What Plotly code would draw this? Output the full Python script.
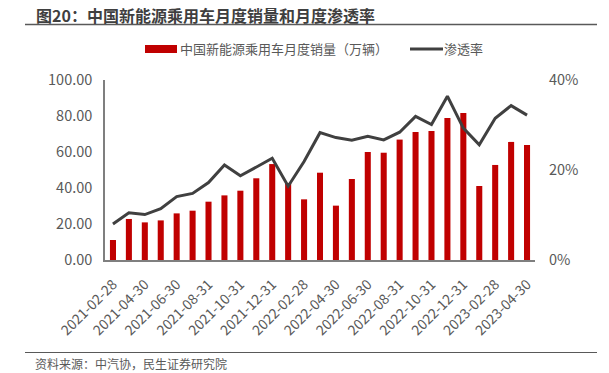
import plotly.graph_objects as go

months = ["2021-02-28","2021-03-31","2021-04-30","2021-05-31","2021-06-30","2021-07-31",
          "2021-08-31","2021-09-30","2021-10-31","2021-11-30","2021-12-31","2022-01-31",
          "2022-02-28","2022-03-31","2022-04-30","2022-05-31","2022-06-30","2022-07-31",
          "2022-08-31","2022-09-30","2022-10-31","2022-11-30","2022-12-31","2023-01-31",
          "2023-02-28","2023-03-31","2023-04-30"]
sales = [11.1, 22.8, 20.9, 22.0, 25.9, 27.4, 32.4, 35.9, 38.5, 45.4, 53.3, 42.8,
         33.7, 48.5, 30.2, 45.0, 60.0, 59.6, 66.9, 71.1, 71.7, 78.9, 81.7, 41.1,
         52.8, 65.6, 63.9]
penetration = [8.0, 10.5, 10.1, 11.4, 14.1, 14.8, 17.2, 21.1, 18.7, 20.7, 22.6, 16.4,
               21.9, 28.3, 27.2, 26.6, 27.5, 26.7, 28.4, 31.9, 30.1, 36.4, 29.3, 25.6,
               31.5, 34.3, 32.2]
tick_labels = months[::2]
left_ticks = [0, 20, 40, 60, 80, 100]
right_ticks = [0, 20, 40]
bar_name = "中国新能源乘用车月度销量（万辆）"
line_name = "渗透率"

FONT = "Noto Sans CJK SC"
L, R, T, B = 105, 535, 80, 260
PW, PH = R - L, B - T

def px(x):
    return (x - L) / PW

def py(y):
    return (B - y) / PH

fig = go.Figure()
fig.add_trace(go.Bar(x=months, y=sales, name=bar_name,
                     marker_color="#C00000", marker_line_width=0))
fig.add_trace(go.Scatter(x=months, y=[p / 100 for p in penetration], name=line_name, yaxis="y2",
                         mode="lines", line=dict(color="#404040", width=3)))

fig.update_layout(
    width=609, height=373,
    margin=dict(l=L, r=609 - R, t=T, b=373 - B, autoexpand=False),
    paper_bgcolor="white", plot_bgcolor="white",
    font=dict(family=FONT, color="#595959", size=13),
    bargap=0.62,
    showlegend=False,
    xaxis=dict(type="category", tickmode="array", tickvals=tick_labels, ticktext=tick_labels,
               tickangle=-45, showline=True, linecolor="#7f7f7f", linewidth=1.5, automargin=False,
               ticks="outside", ticklen=9, tickcolor="rgba(0,0,0,0)",
               tickfont=dict(size=14, color="#595959"), showgrid=False),
    yaxis=dict(range=[0, 100], tickvals=left_ticks, ticktext=[f"{v:.2f}" for v in left_ticks],
               showline=True, linecolor="#7f7f7f", linewidth=1.5, showgrid=False, zeroline=False,
               automargin=False, ticks="outside", ticklen=8, tickcolor="rgba(0,0,0,0)",
               tickfont=dict(size=14.5)),
    yaxis2=dict(range=[0, 0.4], overlaying="y", side="right", tickvals=[v / 100 for v in right_ticks],
                ticktext=[f"{v}%" for v in right_ticks], showgrid=False, zeroline=False,
                automargin=False, showline=False, ticks="outside", ticklen=10,
                tickcolor="rgba(0,0,0,0)", tickfont=dict(size=14.5)),
)

# title and rules
fig.add_annotation(text="<b>图20：中国新能源乘用车月度销量和月度渗透率</b>", xref="paper", yref="paper",
                   x=px(34), y=py(15), xanchor="left", yanchor="middle",
                   showarrow=False, font=dict(size=16, color="#3f3f3f", family=FONT))
fig.add_shape(type="line", xref="paper", yref="paper", x0=px(25), x1=px(597),
              y0=py(24.5), y1=py(24.5), line=dict(color="#595959", width=1.5))
fig.add_shape(type="line", xref="paper", yref="paper", x0=px(25), x1=px(597),
              y0=py(352.5), y1=py(352.5), line=dict(color="#595959", width=1.2))
fig.add_annotation(text="资料来源：中汽协，民生证券研究院", xref="paper", yref="paper",
                   x=px(33), y=py(363), xanchor="left", yanchor="middle",
                   showarrow=False, font=dict(size=12, color="#595959", family=FONT))

# legend
fig.add_shape(type="rect", xref="paper", yref="paper", x0=px(145), x1=px(177),
              y0=py(45), y1=py(53), fillcolor="#C00000", line_width=0)
fig.add_annotation(text=bar_name, xref="paper", yref="paper", x=px(178), y=py(49),
                   xanchor="left", yanchor="middle", showarrow=False,
                   font=dict(size=13, color="#595959", family=FONT))
fig.add_shape(type="line", xref="paper", yref="paper", x0=px(410), x1=px(443),
              y0=py(49), y1=py(49), line=dict(color="#404040", width=3))
fig.add_annotation(text=line_name, xref="paper", yref="paper", x=px(442), y=py(49),
                   xanchor="left", yanchor="middle", showarrow=False,
                   font=dict(size=13, color="#595959", family=FONT))

fig.write_html("out.html", config={"displayModeBar": False},
               post_script="document.body.style.margin='0';document.body.style.overflow='hidden';")
